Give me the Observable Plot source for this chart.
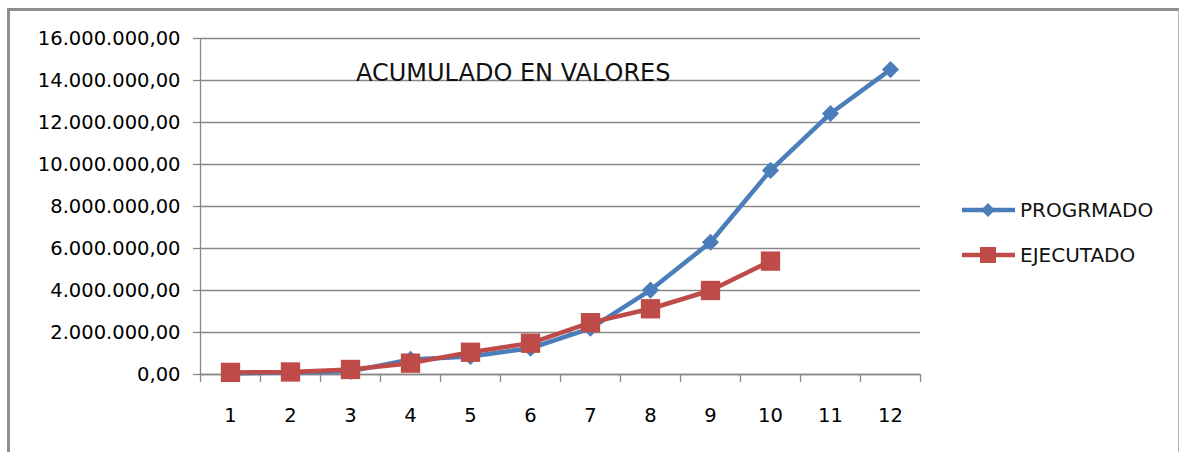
<!DOCTYPE html>
<html>
<head>
<meta charset="utf-8">
<script src="https://cdn.jsdelivr.net/npm/d3@7"></script>
<script src="https://cdn.jsdelivr.net/npm/@observablehq/plot@0.6"></script>
<style>
  html, body { margin: 0; padding: 0; background: #fff; }
  #wrap { position: relative; width: 1181px; height: 452px; overflow: hidden; background: #fff; font-family: "DejaVu Sans", sans-serif; }
  #frame { position: absolute; left: 7px; top: 8px; width: 1168px; height: 470px;
           border-left: 3px solid #8e8e8e; border-top: 3px solid #8e8e8e; border-right: 1px solid #b4b4b4; }
  #chart { position: absolute; left: 0; top: 0; }
  #overlay { position: absolute; left: 0; top: 0; pointer-events: none; }
</style>
</head>
<body>
<div id="wrap">
  <div id="frame"></div>
  <div id="chart"></div>
  <svg id="overlay" width="1181" height="452"></svg>
</div>
<script>
// ---- data ----
const meses = [1, 2, 3, 4, 5, 6, 7, 8, 9, 10, 11, 12];
const programado = [50000, 100000, 150000, 720000, 860000, 1250000, 2200000, 4020000, 6300000, 9720000, 12430000, 14520000];
const ejecutado = [100000, 120000, 240000, 540000, 1060000, 1490000, 2470000, 3130000, 4000000, 5400000];
const yTicks = [0, 2000000, 4000000, 6000000, 8000000, 10000000, 12000000, 14000000, 16000000];
const xBoundaries = [0.5, 1.5, 2.5, 3.5, 4.5, 5.5, 6.5, 7.5, 8.5, 9.5, 10.5, 11.5, 12.5];
const seriesNames = ["PROGRMADO", "EJECUTADO"];
const titulo = "ACUMULADO EN VALORES";

const blue = "#4A7EBB";
const red = "#BE4B48";
const gridColor = "#888888";

const progData = programado.map((v, i) => ({mes: meses[i], valor: v}));
const ejecData = ejecutado.map((v, i) => ({mes: meses[i], valor: v}));

const fmt = d3.formatLocale({decimal: ",", thousands: ".", grouping: [3], currency: ["", ""]}).format(",.2f");

const chart = Plot.plot({
  width: 1181,
  height: 452,
  marginLeft: 200,
  marginRight: 261,
  marginTop: 38,
  marginBottom: 78,
  style: {fontFamily: "DejaVu Sans, sans-serif", color: "#000", background: "transparent", overflow: "visible"},
  x: {type: "linear", domain: [0.5, 12.5]},
  y: {type: "linear", domain: [0, 16000000]},
  marks: [
    Plot.gridY(yTicks, {stroke: gridColor, strokeOpacity: 1, strokeWidth: 1.3}),
    Plot.ruleX([0.5], {stroke: gridColor, strokeWidth: 1.3}),
    Plot.ruleY([0], {stroke: gridColor, strokeWidth: 1.3}),
    Plot.axisY({ticks: yTicks, tickFormat: fmt, tickSize: 7, tickPadding: 13, fontSize: 19.5, label: null, stroke: gridColor, strokeWidth: 1.3}),
    Plot.axisX({ticks: xBoundaries, tickFormat: () => "", tickSize: 8, label: null, stroke: gridColor, strokeWidth: 1.3}),
    Plot.axisX({ticks: meses, tickSize: 0, tickPadding: 34, fontSize: 19.5, label: null}),
    Plot.line(progData, {x: "mes", y: "valor", stroke: blue, strokeWidth: 4.5}),
    Plot.dot(progData, {x: "mes", y: "valor", symbol: "diamond2", r: 7.7, fill: blue, stroke: null}),
    Plot.line(ejecData, {x: "mes", y: "valor", stroke: red, strokeWidth: 4.5}),
    Plot.dot(ejecData, {x: "mes", y: "valor", symbol: "square", r: 10.9, fill: red, stroke: null})
  ]
});
document.getElementById("chart").appendChild(chart);

// ---- title and legend (text overlay) ----
const ov = d3.select("#overlay");
ov.append("text")
  .attr("x", 356).attr("y", 80.5)
  .attr("font-family", "DejaVu Sans, sans-serif")
  .attr("font-size", 24)
  .attr("fill", "#111")
  .text(titulo);

const legendItems = [
  {name: seriesNames[0], color: blue, symbol: "diamond", y: 210},
  {name: seriesNames[1], color: red, symbol: "square", y: 255}
];
const lg = ov.selectAll("g.lg").data(legendItems).join("g").attr("class", "lg")
  .attr("transform", d => `translate(0,${d.y})`);
lg.append("line").attr("x1", 962).attr("x2", 1015).attr("y1", 0).attr("y2", 0)
  .attr("stroke", d => d.color).attr("stroke-width", 4.5);
lg.filter(d => d.symbol === "diamond").append("path")
  .attr("d", "M988,-7L995,0L988,7L981,0Z").attr("fill", d => d.color);
lg.filter(d => d.symbol === "square").append("rect")
  .attr("x", 980).attr("y", -8).attr("width", 16).attr("height", 16).attr("fill", d => d.color);
lg.append("text").attr("x", 1020).attr("y", 0).attr("dy", "0.36em")
  .attr("font-family", "DejaVu Sans, sans-serif").attr("font-size", 20).attr("fill", "#111")
  .text(d => d.name);
</script>
</body>
</html>
